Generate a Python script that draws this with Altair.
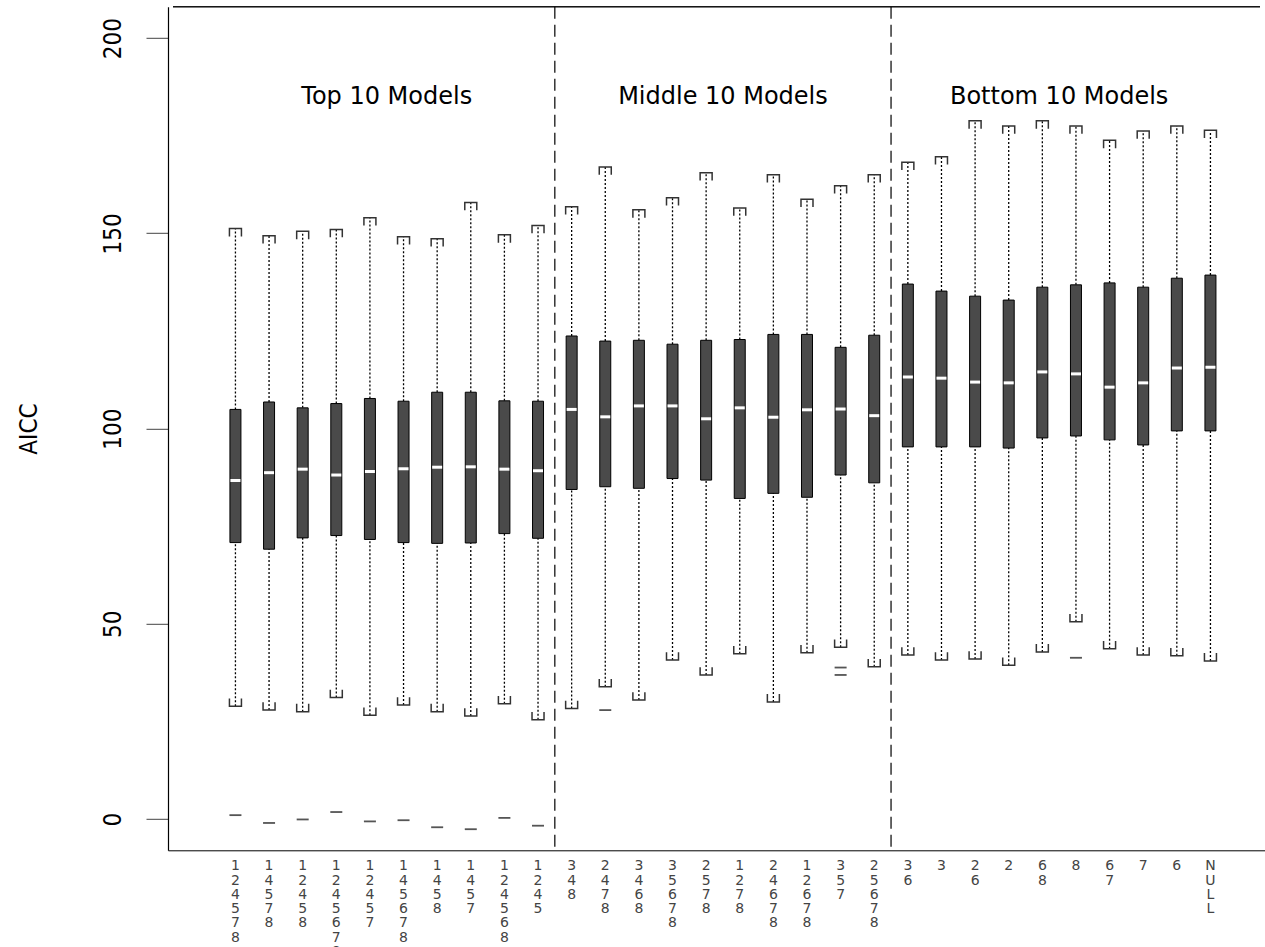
import altair as alt
import pandas as pd

# Candidate model labels (covariate combinations), in plotting order
models = ["124578", "14578", "12458", "1245678", "12457", "145678", "1458", "1457",
          "124568", "1245", "348", "2478", "3468", "35678", "2578", "1278", "24678",
          "12678", "357", "25678", "36", "3", "26", "2", "68", "8", "67", "7", "6", "NULL"]

# Box-plot summaries of AICC for each model
whisker_hi = [151.2, 149.4, 150.5, 151.0, 154.0, 149.1, 148.6, 157.9, 149.6, 152.0,
              156.8, 167.0, 156.0, 159.1, 165.5, 156.5, 165.0, 158.7, 162.2, 165.0,
              168.2, 169.6, 178.8, 177.5, 178.8, 177.5, 173.8, 176.2, 177.5, 176.4]
q3 = [104.9, 106.8, 105.3, 106.4, 107.7, 107.0, 109.3, 109.3, 107.1, 107.0,
      123.7, 122.4, 122.6, 121.6, 122.6, 122.8, 124.1, 124.1, 120.8, 123.9,
      137.0, 135.2, 133.9, 132.9, 136.2, 136.8, 137.3, 136.2, 138.5, 139.3]
median = [86.7, 88.7, 89.6, 88.1, 89.0, 89.7, 90.1, 90.2, 89.6, 89.2,
          104.9, 103.0, 105.8, 105.8, 102.5, 105.3, 102.9, 104.8, 105.0, 103.3,
          113.2, 112.9, 111.9, 111.7, 114.5, 114.0, 110.6, 111.7, 115.5, 115.7]
q1 = [70.8, 69.1, 72.0, 72.6, 71.6, 70.8, 70.6, 70.7, 73.1, 71.9,
      84.4, 85.1, 84.7, 87.2, 86.8, 82.1, 83.4, 82.4, 88.1, 86.1,
      95.3, 95.3, 95.3, 95.0, 97.6, 98.1, 97.1, 95.8, 99.4, 99.4]
whisker_lo = [28.9, 27.9, 27.5, 31.1, 26.6, 29.2, 27.5, 26.4, 29.5, 25.4,
              28.3, 33.9, 30.5, 40.7, 36.9, 42.3, 30.0, 42.6, 44.0, 39.0,
              42.0, 40.7, 41.0, 39.4, 42.8, 50.5, 43.6, 42.0, 41.8, 40.5]

# Outlying AICC values (model position, value)
outlier_pos = [1, 2, 3, 4, 5, 6, 7, 8, 9, 10, 12, 19, 19, 26]
outlier_val = [1.0, -1.0, -0.1, 1.8, -0.6, -0.3, -2.1, -2.6, 0.3, -1.7, 27.9, 38.8, 36.9, 41.3]

# Group headings and separators
group_titles = ["Top 10 Models", "Middle 10 Models", "Bottom 10 Models"]
group_centers = [5.5, 15.5, 25.5]
group_breaks = [10.5, 20.5]
title_level = 185

positions = list(range(1, len(models) + 1))
boxes = pd.DataFrame({"pos": positions, "model": models, "hi": whisker_hi, "q3": q3,
                      "med": median, "q1": q1, "lo": whisker_lo})
# model names written one character per line under each box
boxes["stacked"] = ["\n".join(m) for m in models]
outliers = pd.DataFrame({"pos": outlier_pos, "aicc": outlier_val})
titles = pd.DataFrame({"pos": group_centers, "aicc": [title_level] * 3, "label": group_titles})
breaks = pd.DataFrame({"pos": group_breaks})

X_MIN, X_MAX = -0.857, 31.474
Y_MIN, Y_MAX = -8, 208
x_scale = alt.Scale(domain=[X_MIN, X_MAX], nice=False, zero=False)
y_scale = alt.Scale(domain=[Y_MIN, Y_MAX], nice=False, zero=False)

narrow = "Liberation Sans Narrow, DejaVu Sans Condensed, Liberation Sans, sans-serif"

x_axis = alt.Axis(ticks=False, labels=False, domain=True, domainColor="black",
                  domainWidth=1, grid=False, title=None)

y_axis = alt.Axis(values=[0, 50, 100, 150, 200], title="AICC", grid=False,
                  labelAngle=270, labelAlign="center", labelBaseline="alphabetic",
                  labelPadding=26, labelFontSize=24, labelColor="black", labelFont=narrow,
                  tickSize=22, tickColor="#444444", tickWidth=1,
                  domainColor="black", domainWidth=1.2,
                  titleFont=narrow, titleFontSize=24, titleFontWeight="normal",
                  titleColor="black", titleAngle=270, titleX=-139, titleY=421.7,
                  titleAlign="center", titleBaseline="middle")

base = alt.Chart(boxes)
X = alt.X("pos:Q", scale=x_scale, axis=x_axis)

whisk_style = dict(color="black", strokeDash=[2, 2], strokeWidth=1.3)
upper_whisker = base.mark_rule(**whisk_style).encode(
    x=X, y=alt.Y("q3:Q", scale=y_scale, axis=y_axis), y2="hi:Q")
lower_whisker = base.mark_rule(**whisk_style).encode(x="pos:Q", y="lo:Q", y2="q1:Q")

cap_style = dict(filled=False, stroke="#333333", strokeWidth=1.5, size=144, opacity=1)
upper_cap = base.mark_point(shape="M-1,1.3L-1,0L1,0L1,1.3", **cap_style).encode(
    x="pos:Q", y="hi:Q")
lower_cap = base.mark_point(shape="M-1,-1.3L-1,0L1,0L1,-1.3", **cap_style).encode(
    x="pos:Q", y="lo:Q")

box = base.mark_bar(width=11, fill="#4a4a4a", stroke="black", strokeWidth=1).encode(
    x="pos:Q", y="q1:Q", y2="q3:Q")

med = base.mark_point(shape="M-1,0L1,0", filled=False, stroke="white", strokeWidth=3,
                      size=100, opacity=1).encode(x="pos:Q", y="med:Q")

outl = alt.Chart(outliers).mark_point(shape="M-1,0L1,0", filled=False, stroke="#555555",
                                      strokeWidth=1.8, size=144, opacity=1).encode(
    x="pos:Q", y="aicc:Q")

seps = alt.Chart(breaks).mark_rule(color="black", strokeDash=[12, 6], strokeWidth=1.2).encode(
    x="pos:Q")

heads = alt.Chart(titles).mark_text(font="DejaVu Sans", fontSize=24, color="black").encode(
    x="pos:Q", y="aicc:Q", text="label:N")

# model names below the axis line
names = base.mark_text(font="DejaVu Sans", fontSize=14, color="#444444", lineBreak="\n",
                       lineHeight=14.3, baseline="top", align="center", dy=9).encode(
    x="pos:Q", y=alt.datum(Y_MIN), text="stacked:N")

top_frame = alt.Chart(breaks).mark_rule(color="black", strokeWidth=1).encode(
    x=alt.datum(X_MIN), x2=alt.datum(X_MAX), y=alt.datum(Y_MAX))

chart = alt.layer(
    upper_whisker, lower_whisker, upper_cap, lower_cap, box, med, outl, seps, heads,
    names, top_frame
).properties(
    width=1097, height=843.5,
    padding={"left": 168, "top": 6.8, "right": 0, "bottom": 96.7},
    autosize=alt.AutoSizeParams(type="none"),
    background="white",
).configure_view(stroke=None)

chart.save("out.html", embed_options={"renderer": "svg", "actions": False})
